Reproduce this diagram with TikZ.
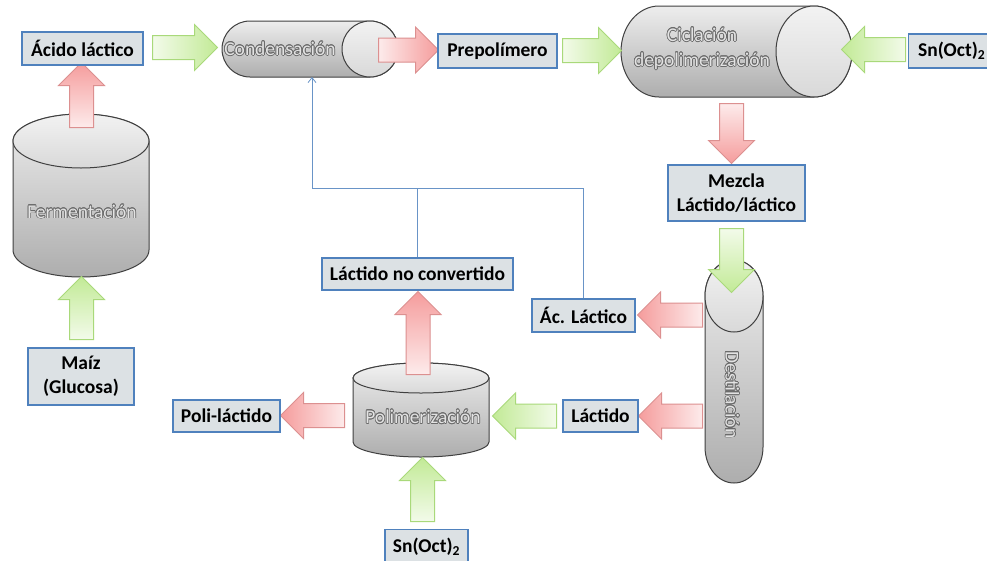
\documentclass[tikz,border=0pt]{standalone}
\usepackage{fontspec}
\setmainfont{Carlito}
\usepackage[copies]{contour}
\usetikzlibrary{arrows.meta, shapes.arrows}
\definecolor{azul}{HTML}{4F81BD}
\definecolor{gris}{HTML}{DCE1E4}
\definecolor{verde}{HTML}{C2EA96}
\definecolor{verdeborde}{HTML}{A9D97A}
\definecolor{rojo}{HTML}{F59C9C}
\definecolor{rojoborde}{HTML}{DC9090}
\contourlength{0.7pt}
\newcommand{\rotulo}[1]{\contour{black!58}{#1}}
% tanque horizontal: x0, x1, yc, radio, radio de la tapa
\newcommand{\tanqueh}[5]{%
  \path[tanque] (#1+#5,#3-#4) -- (#2-#5,#3-#4) arc[start angle=-90, end angle=90, x radius=#5, y radius=#4]
    -- (#1+#5,#3+#4) arc[start angle=90, end angle=270, x radius=#5, y radius=#4] -- cycle;
  \draw[tapa] (#2-#5,#3) ellipse[x radius=#5, y radius=#4];}
% tanque vertical: xc, y0, y1, radio, radio de la tapa
\newcommand{\tanquev}[5]{%
  \path[tanque] (#1-#4,#2+#5) -- (#1-#4,#3-#5) arc[start angle=180, end angle=0, x radius=#4, y radius=#5]
    -- (#1+#4,#2+#5) arc[start angle=0, end angle=-180, x radius=#4, y radius=#5] -- cycle;
  \draw[tapa] (#1,#2+#5) ellipse[x radius=#4, y radius=#5];}
\tikzset{
  caja/.style={draw=azul, fill=gris, line width=1.4pt, minimum height=33pt, inner xsep=6pt,
               align=center, font=\bfseries\fontsize{19.5}{24}\selectfont},
  tanque/.style={draw=black!75, line width=1pt, top color=black!7, bottom color=black!32},
  tapa/.style={draw=black!75, line width=1pt, top color=black!5, bottom color=black!15},
  rotulotanque/.style={text=black!11, font=\fontsize{19.5}{25}\selectfont, align=center},
  flecha/.style={single arrow, single arrow head extend=11pt, inner sep=11.5pt, line width=1pt, anchor=tail},
  verdeb/.style={flecha, draw=verdeborde},
  rojob/.style={flecha, draw=rojoborde},
  der/.style={shape border rotate=0, left color=#1!20!white, right color=#1},
  izq/.style={shape border rotate=180, left color=#1, right color=#1!20!white},
  arr/.style={shape border rotate=90, top color=#1, bottom color=#1!20!white},
  aba/.style={shape border rotate=270, top color=#1!20!white, bottom color=#1},
  conector/.style={draw=azul!85, line width=0.8pt},
}
\begin{document}
\begin{tikzpicture}[x=1pt, y=-1pt]
  \path[fill=white, use as bounding box] (0,0) rectangle (987,560);
  % tanques
  \tanqueh{222}{398}{49}{28}{28}
  \tanqueh{621}{852}{51.5}{45.5}{38}
  \tanquev{734}{260}{483}{29}{36}
  \tanquev{81}{114}{277}{68}{27}
  \tanquev{421}{363}{457}{68}{15}
  \coordinate (cond) at (312,77);
  % flechas
  \node[verdeb, der=verde, minimum height=65pt] (f1) at (152,47.5) {};
  \node[rojob, der=rojo, minimum height=60pt] (f2) at (378,50) {};
  \node[verdeb, der=verde, minimum height=59pt] (f3) at (562,50.5) {};
  \node[verdeb, izq=verde, minimum height=64pt] (f4) at (906,49.5) {};
  \node[rojob, aba=rojo, minimum height=60pt] (f5) at (731.5,103) {};
  \node[verdeb, aba=verde, minimum height=64pt] (f6) at (731.5,228) {};
  \node[rojob, izq=rojo, minimum height=65pt] (f7) at (703,315) {};
  \node[rojob, izq=rojo, minimum height=64pt] (f8) at (703,416) {};
  \node[verdeb, izq=verde, minimum height=64pt] (f9) at (557,416) {};
  \node[rojob, izq=rojo, minimum height=64pt] (f10) at (345,415.5) {};
  \node[rojob, arr=rojo, minimum height=83pt] (f11) at (418,375) {};
  \node[verdeb, arr=verde, minimum height=64pt] (f12) at (422.5,522) {};
  \node[rojob, arr=rojo, minimum height=65pt] (f13) at (81.5,128) {};
  \node[verdeb, arr=verde, minimum height=63pt] (f14) at (81.5,340) {};
  % rotulos de los tanques
  \node[rotulotanque] (tcond) at (280,49) {\rotulo{Condensación}};
  \node[rotulotanque] (tcicla) at (702,49) {\rotulo{Ciclación}\\\rotulo{depolimerización}};
  \node[rotulotanque] (tferm) at (82,212) {\rotulo{Fermentación}};
  \node[rotulotanque] (tpolim) at (423,417) {\rotulo{Polimerización}};
  \node[rotulotanque, rotate=-90] (tdesti) at (732,395) {\rotulo{Destilación}};
  % cajas
  \node[caja, minimum width=121pt] (acido) at (82.5,48.5) {Ácido láctico};
  \node[caja, minimum width=119pt, minimum height=34pt] (prepol) at (497.5,51) {Prepolímero};
  \node[caja, minimum width=86pt, minimum height=34pt, anchor=west] (sn1) at (908,51) {Sn(Oct)\textsubscript{2}};
  \node[caja, minimum width=137pt, minimum height=56pt] (mezcla) at (736.5,193) {Mezcla\\Láctido/láctico};
  \node[caja, minimum width=103pt] (aclac) at (583.5,315.5) {Ác. Láctico};
  \node[caja, minimum width=75pt, minimum height=32pt] (lactido) at (600.5,416) {Láctido};
  \node[caja, minimum width=191pt, minimum height=32pt] (noconv) at (417.5,274) {Láctido no convertido};
  \node[caja, minimum width=107pt, minimum height=32pt] (poli) at (226.5,416) {Poli-láctido};
  \node[caja, minimum width=83pt, minimum height=34pt, anchor=north] (sn2) at (426.5,529) {Sn(Oct)\textsubscript{2}};
  \node[caja, minimum width=106pt, minimum height=57pt] (maiz) at (81,376.5) {Maíz\\(Glucosa)};
  % reciclo
  \coordinate (cruce) at (cond |- 0,188);
  \draw[conector, -{Straight Barb[length=5pt, width=8pt]}] (aclac.north) |- (cruce) -- (cond);
  \draw[conector] (noconv.north) -- (noconv.north |- cruce);
\end{tikzpicture}
\end{document}
